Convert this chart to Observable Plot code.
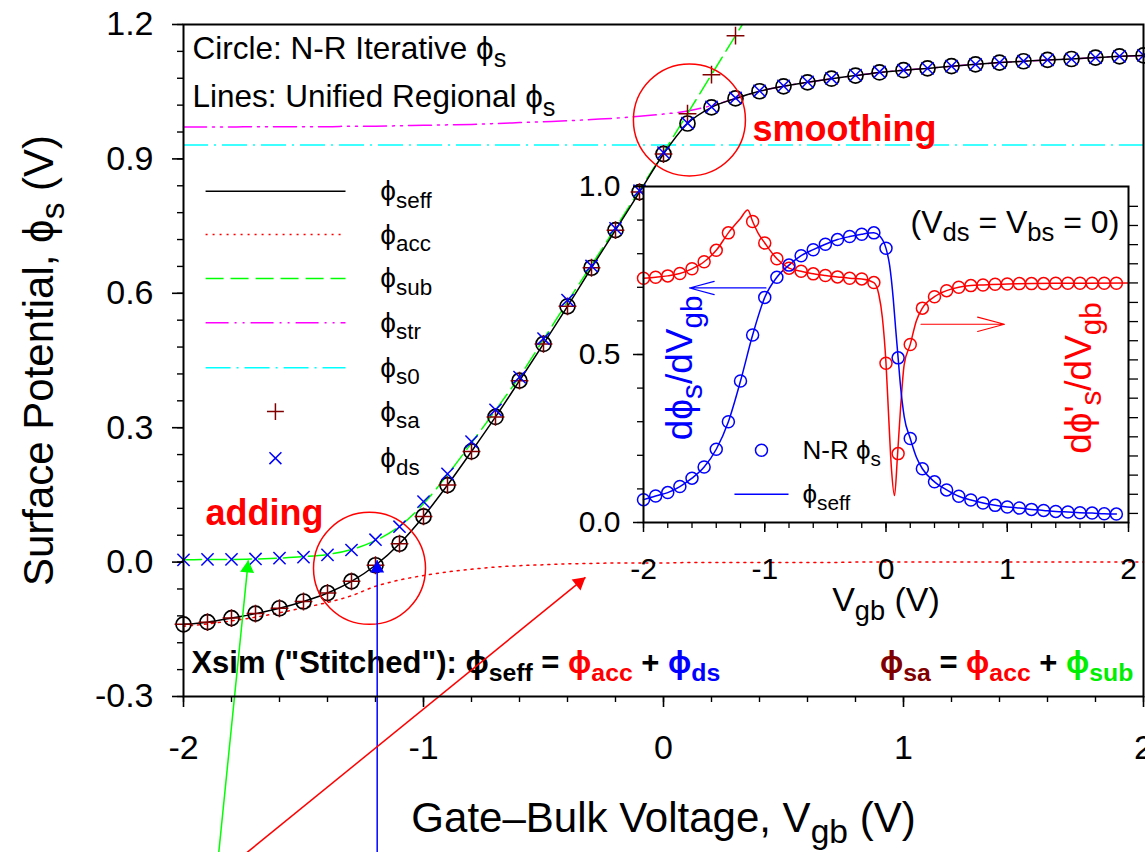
<!DOCTYPE html>
<html><head><meta charset="utf-8">
<script src="https://cdn.jsdelivr.net/npm/d3@7"></script>
<script src="https://cdn.jsdelivr.net/npm/@observablehq/plot@0.6"></script>
<style>
html,body{margin:0;padding:0;background:#fff;}
#wrap{position:relative;width:1145px;height:852px;overflow:hidden;}
#wrap svg{position:absolute;}
</style></head><body><div id="wrap"></div>
<script>
// ---------------- MAIN PLOT DATA ----------------
const vgb = [-2,-1.9,-1.8,-1.7,-1.6,-1.5,-1.4,-1.3,-1.2,-1.1,-1,-0.9,-0.8,-0.7,-0.6,-0.5,-0.4,-0.3,-0.2,-0.1,0,0.1,0.2,0.3,0.4,0.5,0.6,0.7,0.8,0.9,1,1.1,1.2,1.3,1.4,1.5,1.6,1.7,1.8,1.9,2];
const phiSeff = [-0.139,-0.134,-0.125,-0.115,-0.103,-0.088,-0.069,-0.043,-0.007,0.041,0.102,0.172,0.247,0.324,0.405,0.487,0.571,0.657,0.741,0.826,0.911,0.979,1.015,1.035,1.051,1.062,1.071,1.079,1.086,1.093,1.098,1.102,1.107,1.111,1.115,1.118,1.121,1.123,1.126,1.129,1.131];
const phiDs = [0.005,0.006,0.006,0.007,0.009,0.011,0.016,0.027,0.050,0.079,0.135,0.197,0.269,0.340,0.413,0.499,0.585,0.661,0.745,0.829,0.914,0.980,1.016,1.036,1.052,1.063,1.072,1.080,1.087,1.094,1.098,1.102,1.107,1.111,1.115,1.118,1.121,1.123,1.126,1.129,1.131];
const phiAcc = [-0.143,-0.138,-0.131,-0.123,-0.113,-0.102,-0.090,-0.075,-0.054,-0.040,-0.030,-0.022,-0.016,-0.011,-0.008,-0.006,-0.004,-0.003,-0.002,-0.002,-0.002,-0.001,-0.001,-0.001,-0.001,-0.001,-0.001,-0.001,0,0,0,0,0,0,0,0,0,0,0,0,0];
const phiStr = [0.971,0.971,0.971,0.972,0.972,0.972,0.972,0.973,0.973,0.974,0.975,0.976,0.977,0.979,0.981,0.983,0.985,0.988,0.991,0.995,1.000,1.007,1.019,1.035,1.051,1.062,1.071,1.079,1.086,1.093,1.098,1.102,1.107,1.111,1.115,1.118,1.121,1.123,1.126,1.129,1.131];
const phiS0 = 0.931;
const vgbSa = [-2,-1.9,-1.8,-1.7,-1.6,-1.5,-1.4,-1.3,-1.2,-1.1,-1,-0.9,-0.8,-0.7,-0.6,-0.5,-0.4,-0.3,-0.2,-0.1,0,0.1,0.2,0.3];
const phiSa = [-0.139,-0.134,-0.125,-0.115,-0.103,-0.088,-0.069,-0.043,-0.007,0.041,0.102,0.172,0.247,0.324,0.405,0.487,0.571,0.657,0.741,0.826,0.911,1.001,1.088,1.175];
const vgbSub = [-2,-1.9,-1.8,-1.7,-1.6,-1.5,-1.4,-1.3,-1.2,-1.1,-1,-0.9,-0.8,-0.7,-0.6,-0.5,-0.4,-0.3,-0.2,-0.1,0,0.1,0.2,0.3,0.4];
const phiSub = [0.005,0.006,0.006,0.007,0.009,0.012,0.017,0.028,0.048,0.080,0.130,0.195,0.266,0.339,0.414,0.497,0.581,0.663,0.746,0.830,0.914,1.001,1.088,1.175,1.262];

const mainXTicks = [-2,-1,0,1,2];
const mainYTicks = [-0.3,0,0.3,0.6,0.9,1.2];

// legend of main plot
const legendLabels = ["ϕ_{seff}","ϕ_{acc}","ϕ_{sub}","ϕ_{str}","ϕ_{s0}","ϕ_{sa}","ϕ_{ds}"];
const legendY = [0.828,0.731,0.633,0.534,0.434,0.336,0.232];
const legendKinds = ["line","line","line","line","line","plus","times"];
const legendColors = ["#000000","#ff0000","#00ff00","#ff00ff","#00ffff","#800000","#0000ff"];
const legendDash = [null,"2,5","18,7","23,6,2,6,2,6","25,6,2,6",null,null];
const legendLineX = [-1.908,-1.325];
const legendMarkX = -1.617;
const legendTextX = -1.18;

// annotations of main plot
const mainNotes = [
  {text:"Circle: N-R Iterative ϕ_{s}", x:-1.9625, y:1.124},
  {text:"Lines: Unified Regional ϕ_{s}", x:-1.9625, y:1.015}
];
const boldNotes = [
  {text:"smoothing", x:0.371, y:0.941},
  {text:"adding", x:-1.908, y:0.082}
];
const formulas = [
  {text:'Xsim ("Stitched"): ϕ_{seff} = [#ff0000]ϕ_{acc}[/] + [#0000ff]ϕ_{ds}[/]', x:-1.967, y:-0.247, anchor:"start"},
  {text:'[#800000]ϕ_{sa}[/] = [#ff0000]ϕ_{acc}[/] + [#00ee00]ϕ_{sub}[/]', x:1.958, y:-0.247, anchor:"end"}
];
const annoCircles = [{x:0.108, y:0.987}, {x:-1.225, y:-0.014}];
const annoArrows = [
  {x1:-1.853, y1:-0.648, x2:-1.73, y2:0.004, color:"#00ff00"},
  {x1:-1.193, y1:-0.648, x2:-1.193, y2:0.004, color:"#0000ff"},
  {x1:-1.735, y1:-0.648, x2:-0.325, y2:-0.034, color:"#ff0000"}
];

// ---------------- INSET DATA ----------------
const insetVgb = [-2,-1.9,-1.8,-1.7,-1.6,-1.5,-1.4,-1.3,-1.2,-1.1,-1,-0.9,-0.8,-0.7,-0.6,-0.5,-0.4,-0.3,-0.2,-0.1,0,0.1,0.2,0.3,0.4,0.5,0.6,0.7,0.8,0.9,1,1.1,1.2,1.3,1.4,1.5,1.6,1.7,1.8,1.9];
const dPhiS = [0.068,0.079,0.089,0.107,0.132,0.165,0.218,0.300,0.421,0.558,0.670,0.730,0.766,0.794,0.812,0.828,0.842,0.851,0.858,0.862,0.816,0.490,0.250,0.160,0.121,0.097,0.078,0.067,0.058,0.051,0.046,0.043,0.039,0.036,0.033,0.031,0.029,0.028,0.026,0.025];
const insetVgbRed = [-2,-1.9,-1.8,-1.7,-1.6,-1.5,-1.4,-1.3,-1.1,-1,-0.9,-0.8,-0.7,-0.6,-0.5,-0.4,-0.3,-0.2,-0.1,0,0.1,0.2,0.3,0.4,0.5,0.6,0.7,0.8,0.9,1,1.1,1.2,1.3,1.4,1.5,1.6,1.7,1.8,1.9];
const dPhiSp = [0.727,0.730,0.734,0.741,0.755,0.776,0.810,0.862,0.896,0.832,0.785,0.757,0.748,0.740,0.735,0.731,0.727,0.725,0.714,0.474,0.205,0.530,0.638,0.672,0.690,0.700,0.705,0.707,0.709,0.710,0.711,0.711,0.711,0.712,0.712,0.712,0.712,0.712,0.712];
const blueLineX = [-2,-1.9,-1.8,-1.7,-1.6,-1.5,-1.4,-1.3,-1.2,-1.1,-1,-0.9,-0.8,-0.7,-0.6,-0.5,-0.4,-0.3,-0.2,-0.1,-0.05,0,0.03,0.06,0.08,0.1,0.12,0.15,0.2,0.25,0.3,0.4,0.5,0.6,0.7,0.8,0.9,1,1.1,1.2,1.3,1.4,1.5,1.6,1.7,1.8,1.9];
const blueLineY = [0.068,0.079,0.089,0.107,0.132,0.165,0.218,0.300,0.421,0.558,0.670,0.730,0.766,0.794,0.812,0.828,0.842,0.851,0.858,0.862,0.852,0.816,0.765,0.665,0.575,0.490,0.405,0.315,0.250,0.195,0.160,0.121,0.097,0.078,0.067,0.058,0.051,0.046,0.043,0.039,0.036,0.033,0.031,0.029,0.028,0.026,0.025];
const redLineX = [-2,-1.9,-1.8,-1.7,-1.6,-1.5,-1.4,-1.3,-1.2,-1.14,-1.1,-1.05,-1,-0.9,-0.8,-0.7,-0.6,-0.5,-0.4,-0.3,-0.2,-0.1,-0.06,-0.03,0,0.02,0.045,0.07,0.095,0.12,0.15,0.2,0.25,0.3,0.4,0.5,0.6,0.7,0.8,1,1.5,2];
const redLineY = [0.727,0.730,0.734,0.741,0.755,0.776,0.810,0.862,0.905,0.930,0.896,0.858,0.832,0.785,0.757,0.748,0.740,0.735,0.731,0.727,0.725,0.714,0.680,0.610,0.474,0.330,0.160,0.080,0.200,0.340,0.470,0.530,0.600,0.638,0.672,0.690,0.700,0.705,0.707,0.710,0.712,0.713];
const insetXTicks = [-2,-1,0,1,2];
const insetYTicks = [0,0.5,1.0];
const insetRightTicks = [0.027,0.084,0.141,0.198,0.255,0.312,0.370,0.427,0.484,0.541,0.598,0.655,0.713,0.770,0.827,0.884,0.941];
const insetArrows = [
  {x1:-0.99, y1:0.698, x2:-1.62, y2:0.698, color:"#0000ff"},
  {x1:0.289, y1:0.59, x2:0.977, y2:0.59, color:"#ff0000"}
];
const insetNote = {text:"(V_{ds} = V_{bs} = 0)", x:0.202, y:0.863};
const insetTitles = [
  {text:"dϕ_{s}/dV_{gb}", x:-1.596, y:0.46, color:"#0000ff"},
  {text:"dϕ'_{s}/dV_{gb}", x:1.687, y:0.43, color:"#ff0000"}
];
const insetLegend = {circle:{x:-1.027, y:0.215}, line:{x1:-1.25, x2:-0.804, y:0.084}, textX:-0.689,
  labels:[{text:"N-R ϕ_{s}", y:0.215},{text:"ϕ_{seff}", y:0.084}]};

// ---------------- BUILD ----------------
const FONT = "'Liberation Sans', Arial, Helvetica, sans-serif";
const fmt1 = d => d.toFixed(1);
const fmt0 = d => String(d);
const pts = (xs, ys) => xs.map((x, i) => ({x, y: ys[i]}));

// main scale geometry
const M = {left:183, right:2, top:24, bottom:156, width:1145, height:852};
const xsMain = Plot.scale({x:{domain:[-2,2], range:[M.left, M.width - M.right]}});
const ysMain = Plot.scale({y:{domain:[-0.3,1.2], range:[M.height - M.bottom, M.top]}});

// arrow heads (filled triangles) computed through the scales
const headR = 5.2;
const tipDist = 2 * Math.sqrt(Math.PI * headR * headR / (3 * Math.sqrt(3)));
const arrowHeads = annoArrows.map(a => {
  const p1 = [xsMain.apply(a.x1), ysMain.apply(a.y1)], p2 = [xsMain.apply(a.x2), ysMain.apply(a.y2)];
  const L = Math.hypot(p2[0]-p1[0], p2[1]-p1[1]);
  const ux = (p2[0]-p1[0]) / L, uy = (p2[1]-p1[1]) / L;
  return {x: xsMain.invert(p2[0] - tipDist*ux), y: ysMain.invert(p2[1] - tipDist*uy),
          rotate: Math.atan2(ux, -uy) * 180 / Math.PI, color: a.color};
});

const legendMarks = [];
legendLabels.forEach((lab, i) => {
  if (legendKinds[i] === "line") {
    legendMarks.push(Plot.link([0], {x1: legendLineX[0], x2: legendLineX[1], y1: legendY[i], y2: legendY[i],
      stroke: legendColors[i], strokeWidth: 1.5, strokeDasharray: legendDash[i] || undefined}));
  } else {
    legendMarks.push(Plot.dot([0], {x: legendMarkX, y: legendY[i], symbol: legendKinds[i], r: 5.5,
      stroke: legendColors[i], strokeWidth: 1.5}));
  }
});
legendMarks.push(Plot.text(legendLabels.map((t, i) => ({t, y: legendY[i]})),
  {x: legendTextX, y: "y", text: "t", textAnchor: "start", lineAnchor: "middle", fontSize: 28, fill: "black"}));

const main = Plot.plot({
  width: M.width, height: M.height,
  marginLeft: M.left, marginRight: M.right, marginTop: M.top, marginBottom: M.bottom,
  x: {domain: [-2, 2], axis: null},
  y: {domain: [-0.3, 1.2], axis: null},
  style: {fontFamily: FONT, background: "white", color: "black"},
  marks: [
    Plot.ruleY([phiS0], {stroke: "#00ffff", strokeWidth: 1.5, strokeDasharray: "25,6,2,6"}),
    Plot.line(pts(vgb, phiStr), {x: "x", y: "y", stroke: "#ff00ff", strokeWidth: 1.5, strokeDasharray: "23,6,2,6,2,6", curve: "monotone-x"}),
    Plot.line(pts(vgb, phiAcc), {x: "x", y: "y", stroke: "#ff0000", strokeWidth: 1.5, strokeDasharray: "2,5", curve: "monotone-x"}),
    Plot.line(pts(vgbSub, phiSub), {x: "x", y: "y", stroke: "#00ff00", strokeWidth: 1.5, strokeDasharray: "18,7", curve: "monotone-x", clip: true}),
    Plot.line(pts(vgb, phiSeff), {x: "x", y: "y", stroke: "black", strokeWidth: 1.5, curve: "monotone-x"}),
    Plot.dot(pts(vgb, phiSeff), {x: "x", y: "y", r: 7.5, stroke: "black", strokeWidth: 1.7, fill: "none"}),
    Plot.dot(pts(vgbSa, phiSa), {x: "x", y: "y", symbol: "plus", r: 5.8, stroke: "#800000", strokeWidth: 1.5}),
    Plot.dot(pts(vgb, phiDs), {x: "x", y: "y", symbol: "times", r: 5.6, stroke: "#0000ff", strokeWidth: 1.5}),
    ...legendMarks,
    Plot.text(mainNotes, {x: "x", y: "y", text: "text", textAnchor: "start", lineAnchor: "bottom", fontSize: 31.5, fill: "black"}),
    Plot.text(boldNotes, {x: "x", y: "y", text: "text", textAnchor: "start", lineAnchor: "bottom", fontSize: 36, fontWeight: "bold", fill: "#ff0000"}),
    Plot.text(formulas.filter(f => f.anchor === "start"), {x: "x", y: "y", text: "text", textAnchor: "start", lineAnchor: "bottom", fontSize: 31, fontWeight: "bold", fill: "black"}),
    Plot.text(formulas.filter(f => f.anchor === "end"), {x: "x", y: "y", text: "text", textAnchor: "end", lineAnchor: "bottom", fontSize: 31, fontWeight: "bold", fill: "black"}),
    Plot.dot(annoCircles, {x: "x", y: "y", r: 56, stroke: "#ff0000", strokeWidth: 1.5, fill: "none"}),
    Plot.link(annoArrows, {x1: "x1", y1: "y1", x2: "x2", y2: "y2", stroke: "color", strokeWidth: 1.5}),
    Plot.dot(arrowHeads, {x: "x", y: "y", symbol: "triangle", r: headR, fill: "color", rotate: "rotate"}),
    Plot.frame({stroke: "black", strokeWidth: 2}),
    Plot.axisX(mainXTicks, {anchor: "bottom", tickSize: 11, tickPadding: 27, fontSize: 34, tickFormat: fmt0, strokeWidth: 1.6, label: null}),
    Plot.axisX(d3.range(-2, 2.001, 0.2), {anchor: "bottom", tickSize: 6, tickFormat: () => "", strokeWidth: 1.4, label: null}),
    Plot.axisY(mainYTicks, {anchor: "left", tickSize: 11, tickPadding: 19, fontSize: 34, tickFormat: fmt1, strokeWidth: 1.6, label: null}),
    Plot.axisY(d3.range(-0.3, 1.2001, 0.06), {anchor: "left", tickSize: 6, tickFormat: () => "", strokeWidth: 1.4, label: null}),
    Plot.text(["Gate–Bulk Voltage, V_{gb} (V)"], {frameAnchor: "bottom", dy: 135, textAnchor: "middle", lineAnchor: "bottom", fontSize: 42, fill: "black"}),
    Plot.text(["Surface Potential, ϕ_{s} (V)"], {frameAnchor: "left", dx: -131, rotate: -90, textAnchor: "middle", lineAnchor: "bottom", fontSize: 42, fill: "black"})
  ]
});

// inset geometry
const I = {left:80, right:30, top:16, bottom:130, fw:485, fh:336};
const inset = Plot.plot({
  width: I.left + I.fw + I.right, height: I.top + I.fh + I.bottom,
  marginLeft: I.left, marginRight: I.right, marginTop: I.top, marginBottom: I.bottom,
  x: {domain: [-2, 2], axis: null},
  y: {domain: [0, 1], axis: null},
  style: {fontFamily: FONT, background: "transparent", color: "black"},
  marks: [
    Plot.frame({fill: "white", stroke: null}),
    Plot.line(pts(redLineX, redLineY), {x: "x", y: "y", stroke: "#ff0000", strokeWidth: 1.5, curve: "monotone-x"}),
    Plot.line(pts(blueLineX, blueLineY), {x: "x", y: "y", stroke: "#0000ff", strokeWidth: 1.5, curve: "monotone-x"}),
    Plot.dot(pts(insetVgbRed, dPhiSp), {x: "x", y: "y", r: 6, stroke: "#ff0000", strokeWidth: 1.5, fill: "none"}),
    Plot.dot(pts(insetVgb, dPhiS), {x: "x", y: "y", r: 6, stroke: "#0000ff", strokeWidth: 1.5, fill: "none"}),
    Plot.arrow(insetArrows, {x1: "x1", y1: "y1", x2: "x2", y2: "y2", stroke: "color", strokeWidth: 1.2, headLength: 40, headAngle: 30}),
    Plot.text([insetNote], {x: "x", y: "y", text: "text", textAnchor: "start", lineAnchor: "bottom", fontSize: 32, fill: "black"}),
    Plot.text(insetTitles, {x: "x", y: "y", text: "text", rotate: -90, textAnchor: "middle", lineAnchor: "bottom", fontSize: 37, fill: "color"}),
    Plot.dot([insetLegend.circle], {x: "x", y: "y", r: 6, stroke: "#0000ff", strokeWidth: 1.5, fill: "none"}),
    Plot.link([insetLegend.line], {x1: "x1", x2: "x2", y1: "y", y2: "y", stroke: "#0000ff", strokeWidth: 1.5}),
    Plot.text(insetLegend.labels, {x: insetLegend.textX, y: "y", text: "text", textAnchor: "start", lineAnchor: "middle", fontSize: 26, fill: "black"}),
    Plot.frame({stroke: "black", strokeWidth: 2}),
    Plot.axisX(insetXTicks, {anchor: "bottom", tickSize: 10, tickPadding: 25, fontSize: 30, tickFormat: fmt0, strokeWidth: 1.5, label: null}),
    Plot.axisX(d3.range(-2, 2.001, 0.2), {anchor: "bottom", tickSize: 6, tickFormat: () => "", strokeWidth: 1.3, label: null}),
    Plot.axisY(insetYTicks, {anchor: "left", tickSize: 10, tickPadding: 13, fontSize: 30, tickFormat: fmt1, strokeWidth: 1.5, label: null}),
    Plot.axisY(d3.range(0, 1.001, 0.1), {anchor: "left", tickSize: 6, tickFormat: () => "", strokeWidth: 1.3, label: null}),
    Plot.axisY(insetRightTicks, {anchor: "right", tickSize: 9, tickFormat: () => "", strokeWidth: 1.3, label: null}),
    Plot.text(["V_{gb} (V)"], {frameAnchor: "bottom", dy: 88, textAnchor: "middle", lineAnchor: "bottom", fontSize: 34, fill: "black"})
  ]
});

const wrap = document.getElementById("wrap");
main.style.left = "0px"; main.style.top = "0px";
inset.style.left = (643 - I.left) + "px"; inset.style.top = (186 - I.top) + "px";
wrap.appendChild(main);
wrap.appendChild(inset);

// rich text: _{sub} for subscripts, [#color]...[/] for colored runs
function richText(svg) {
  svg.querySelectorAll("text").forEach(t => {
    if (t.children.length) return;
    const s = t.textContent;
    if (!s.includes("_{") && !s.includes("[#")) return;
    const F = parseFloat(getComputedStyle(t).fontSize) || 16;
    const shift = 0.27 * F;
    t.textContent = "";
    let color = null, lowered = false, m;
    const re = /_\{([^}]*)\}|\[(#[0-9a-fA-F]{3,6}|\/)\]|([^_\[]+|[_\[])/g;
    while ((m = re.exec(s))) {
      if (m[2] !== undefined) { color = m[2] === "/" ? null : m[2]; continue; }
      const ts = document.createElementNS("http://www.w3.org/2000/svg", "tspan");
      if (m[1] !== undefined) {
        ts.textContent = m[1];
        ts.setAttribute("font-size", (0.8 * F) + "px");
        if (!lowered) { ts.setAttribute("dy", shift); lowered = true; }
      } else {
        ts.textContent = m[3];
        if (lowered) { ts.setAttribute("dy", -shift); lowered = false; }
      }
      if (color) ts.setAttribute("fill", color);
      t.appendChild(ts);
    }
  });
}
richText(main);
richText(inset);
</script></body></html>
